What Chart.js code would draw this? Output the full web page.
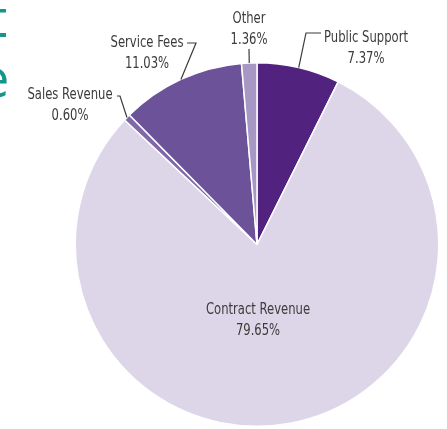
<!DOCTYPE html>
<html>
<head>
<meta charset="utf-8">
<script src="https://cdn.jsdelivr.net/npm/chart.js@4"></script>
<style>
html,body{margin:0;padding:0;background:#fff;}
canvas{display:block;}
</style>
</head>
<body>
<canvas id="c" width="447" height="429"></canvas>
<script>
const categories = ["Public Support", "Contract Revenue", "Sales Revenue", "Service Fees", "Other"];
const shares = [7.37, 79.65, 0.60, 11.03, 1.36];
const shareLabels = ["7.37%", "79.65%", "0.60%", "11.03%", "1.36%"];
const sliceColors = ["#51237f", "#ddd6e9", "#7f68aa", "#6c5299", "#a797c5"];

const FONT = "'Liberation Sans Narrow', 'DejaVu Sans Condensed', 'Arial Narrow', sans-serif";
const SQUEEZE = 0.86;

// label layout: text centre, leader path (elbow, end) in canvas px
const labelLayout = [
  {tx: 366, ty: 38, elbow: [306, 33], end: [321, 33]},
  {tx: 258, ty: 310, elbow: null, end: null},
  {tx: 70, ty: 95, elbow: [120, 96], end: [117, 96]},
  {tx: 147, ty: 43, elbow: [196, 43], end: [187, 43]},
  {tx: 249, ty: 19, elbow: [249, 49], end: null}
];

function squeezedText(ctx, s, x, y) {
  ctx.save();
  ctx.translate(x, y);
  ctx.scale(SQUEEZE, 1);
  ctx.fillText(s, 0, 0);
  ctx.restore();
}

const labelPlugin = {
  id: 'labels',
  afterDraw(chart) {
    const ctx = chart.ctx;
    const meta = chart.getDatasetMeta(0);
    ctx.save();
    // cropped teal heading at left edge
    ctx.fillStyle = '#14968c';
    ctx.font = '52px ' + FONT;
    ctx.textAlign = 'right';
    ctx.textBaseline = 'alphabetic';
    ctx.fillText('t', 7, 37);
    ctx.fillText('e', 9, 97);

    ctx.font = '15px ' + FONT;
    ctx.textAlign = 'center';
    ctx.textBaseline = 'middle';
    ctx.fillStyle = '#3b3b3b';
    ctx.strokeStyle = '#3b3b3b';
    ctx.lineWidth = 1.2;
    meta.data.forEach((arc, i) => {
      const L = labelLayout[i];
      const mid = (arc.startAngle + arc.endAngle) / 2;
      const ax = arc.x + Math.cos(mid) * arc.outerRadius;
      const ay = arc.y + Math.sin(mid) * arc.outerRadius;
      if (L.elbow) {
        ctx.beginPath();
        ctx.moveTo(ax, ay);
        ctx.lineTo(L.elbow[0], L.elbow[1]);
        if (L.end) ctx.lineTo(L.end[0], L.end[1]);
        ctx.stroke();
      }
      squeezedText(ctx, categories[i], L.tx, L.ty);
      squeezedText(ctx, shareLabels[i], L.tx, L.ty + 21);
    });
    ctx.restore();
  }
};

new Chart(document.getElementById('c'), {
  type: 'pie',
  data: {
    labels: categories,
    datasets: [{
      data: shares,
      backgroundColor: sliceColors,
      borderColor: '#ffffff',
      borderWidth: 1.5,
      hoverOffset: 0,
      offset: 0
    }]
  },
  options: {
    responsive: false,
    animation: false,
    layout: {padding: {left: 74.5, right: 7.5, top: 62, bottom: 2}},
    plugins: {legend: {display: false}, tooltip: {enabled: false}}
  },
  plugins: [labelPlugin]
});
</script>
</body>
</html>
